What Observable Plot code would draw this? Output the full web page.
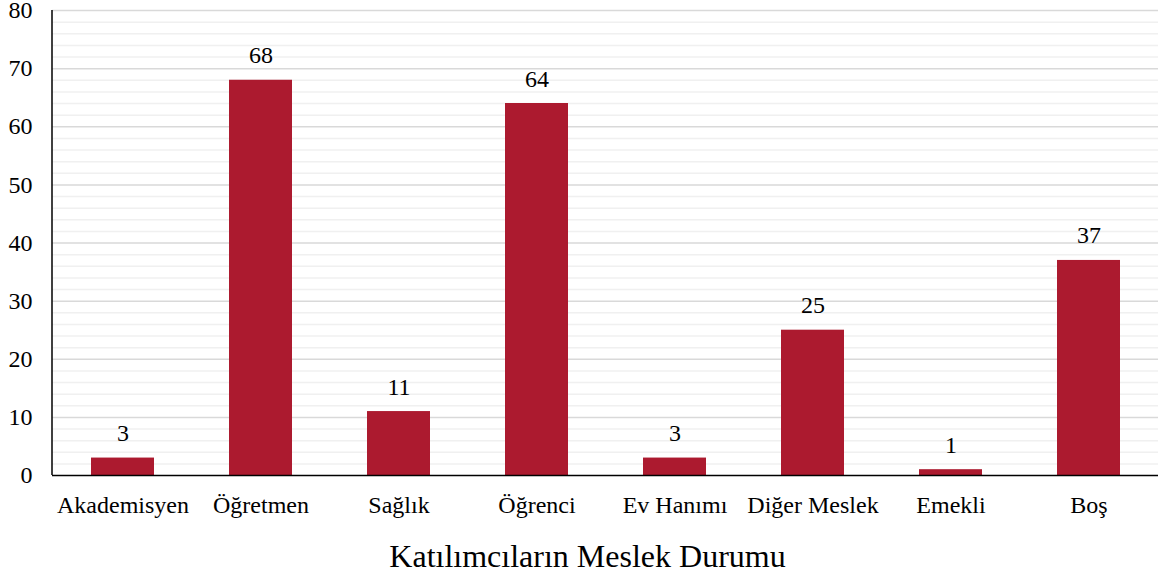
<!DOCTYPE html>
<html>
<head>
<meta charset="utf-8">
<script src="https://cdn.jsdelivr.net/npm/d3@7"></script>
<script src="https://cdn.jsdelivr.net/npm/@observablehq/plot@0.6"></script>
<style>
  html, body { margin: 0; padding: 0; background: #fff; }
  svg { display: block; }
  #chart svg, #chart svg text { font-family: 'Liberation Serif', 'Times New Roman', serif !important; }
</style>
</head>
<body>
<div id="chart"></div>
<script>
const categories = ["Akademisyen", "Öğretmen", "Sağlık", "Öğrenci", "Ev Hanımı", "Diğer Meslek", "Emekli", "Boş"];
const values = [3, 68, 11, 64, 3, 25, 1, 37];
const majorTicks = [0, 10, 20, 30, 40, 50, 60, 70, 80];
const minorTicks = d3.range(0, 81, 2).filter(v => v % 10 !== 0);
const axisTitle = "Katılımcıların Meslek Durumu";

const data = categories.map((c, i) => ({category: c, value: values[i]}));
const font = "'Liberation Serif', 'Times New Roman', serif";

const chart = Plot.plot({
  width: 1159,
  height: 578,
  marginLeft: 52,
  marginRight: 1,
  marginTop: 10,
  marginBottom: 103,
  style: {fontFamily: font, fontSize: "24px", color: "#000", background: "#fff", overflow: "visible"},
  x: {domain: categories, paddingInner: 0.544, paddingOuter: 0.272},
  y: {domain: [0, 80]},
  marks: [
    Plot.ruleY(minorTicks, {stroke: "#f0f0f0", strokeWidth: 1.5}),
    Plot.ruleY(majorTicks.filter(v => v > 0), {stroke: "#d9d9d9", strokeWidth: 1.5}),
    Plot.barY(data, {x: "category", y: "value", fill: "#ac1a2f"}),
    Plot.text(data, {x: "category", y: "value", text: d => String(d.value), lineAnchor: "bottom", dy: -17, fontSize: 24, fontFamily: font, fill: "#000"}),
    Plot.axisY({ticks: majorTicks, tickSize: 0, tickPadding: 20, label: null, fontSize: 24, fontFamily: font, tickFormat: d => String(d)}),
    Plot.axisX({tickSize: 0, tickPadding: 20, label: null, fontSize: 24, fontFamily: font}),
    Plot.ruleY([0], {stroke: "#000", strokeWidth: 1.5}),
    Plot.text([axisTitle], {frameAnchor: "bottom", lineAnchor: "bottom", dy: 91, dx: -18, fontSize: 32, fontFamily: font, fill: "#000", text: d => d})
  ]
});

// y axis vertical line at left frame edge
const svg = d3.select(chart);
svg.append("line")
  .attr("x1", 52).attr("x2", 52)
  .attr("y1", 10).attr("y2", 475)
  .attr("stroke", "#000").attr("stroke-width", 1.5);

document.getElementById("chart").appendChild(chart);
</script>
</body>
</html>
